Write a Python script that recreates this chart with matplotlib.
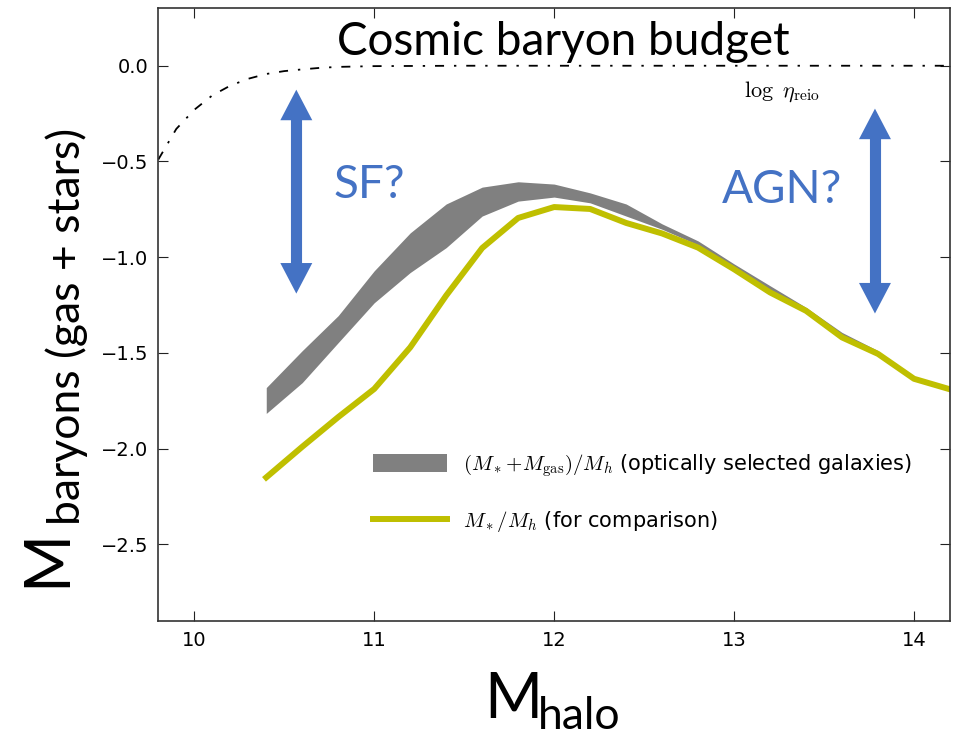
import numpy as np
import matplotlib
matplotlib.use("Agg")
import matplotlib.pyplot as plt

plt.rcParams['mathtext.fontset'] = 'cm'
plt.rcParams['font.family'] = ['DejaVu Sans']

# halo mass grid (log M_halo)
mhalo = [10.4, 10.6, 10.8, 11.0, 11.2, 11.4, 11.6, 11.8, 12.0, 12.2,
         12.4, 12.6, 12.8, 13.0, 13.2, 13.4, 13.6, 13.8, 14.0, 14.2]
# M*/Mh (for comparison)
mstar = [-2.15, -1.99, -1.835, -1.688, -1.471, -1.20, -0.952, -0.795, -0.738, -0.748,
         -0.821, -0.876, -0.95, -1.063, -1.184, -1.28, -1.419, -1.505, -1.635, -1.69]

# (M*+Mgas)/Mh band, optically selected galaxies
band_x = [10.4, 10.6, 10.8, 11.0, 11.2, 11.4, 11.6, 11.8, 12.0, 12.2,
          12.4, 12.6, 12.8, 13.0, 13.2, 13.4, 13.6, 13.8]
band_hi = [-1.681, -1.488, -1.305, -1.071, -0.873, -0.722, -0.634, -0.606, -0.618, -0.664,
           -0.722, -0.826, -0.915, -1.035, -1.149, -1.262, -1.393, -1.488]
band_lo = [-1.816, -1.655, -1.446, -1.238, -1.080, -0.950, -0.785, -0.707, -0.686, -0.716,
           -0.785, -0.854, -0.936, -1.05, -1.17, -1.27, -1.405, -1.493]

# log eta_reio curve
eta_x = [9.8, 9.9, 10.0, 10.1, 10.2, 10.3, 10.4, 10.5, 10.6, 10.7, 10.8, 11.0, 11.5, 14.2]
eta_y = [-0.49, -0.33, -0.23, -0.155, -0.104, -0.068, -0.043, -0.028, -0.019, -0.011,
         -0.006, -0.002, 0.0, 0.0]

xticks = [10, 11, 12, 13, 14]
yticks = [0.0, -0.5, -1.0, -1.5, -2.0, -2.5]

blue = '#4472C4'

fig = plt.figure(figsize=(9.64, 7.38), dpi=100)
ax = fig.add_axes([158.3/964, 1-621/738, (950-158.3)/964, (621-8.3)/738])

ax.plot(eta_x, eta_y, color='black', lw=1.3, dashes=(5, 5.5, 1.3, 5.5))
ax.fill_between(band_x, band_lo, band_hi, color='gray', lw=0,
                label=r'$(M_*\!+\!M_{\rm gas})/M_h$ (optically selected galaxies)')
ax.plot(mhalo, mstar, color='y', lw=4.3, label=r'$M_*/M_h$ (for comparison)')

ax.set_xlim(9.8, 14.2)
ax.set_ylim(-2.9, 0.3)
ax.set_xticks(xticks)
ax.set_yticks(yticks)
ax.set_xticklabels([str(t) for t in xticks])
ax.set_yticklabels(['0.0', '\u22120.5', '\u22121.0', '\u22121.5', '\u22122.0', '\u22122.5'])
ax.tick_params(direction='in', length=7, width=0.8, top=True, right=True,
               labelsize=14, pad=7, colors='#222222', labelcolor='black')
for s in ax.spines.values():
    s.set_linewidth(1.2)
    s.set_color('#333333')

leg = ax.legend(loc='upper left', bbox_to_anchor=(0.271, 0.276), frameon=False,
                fontsize=15, handlelength=3.55, handleheight=0.96, labelspacing=1.45,
                handletextpad=0.77, borderpad=0, borderaxespad=0)

# annotations
ax.text(12.05, 0.054, 'Cosmic baryon budget', ha='center', va='baseline',
        fontsize=33, family='Lato')
ax.text(13.057, -0.16, r'$\log\ \eta_{\rm reio}$', fontsize=16, ha='left', va='baseline')
ax.text(10.772, -0.692, 'SF?', fontsize=33, family='Lato', color=blue, va='baseline')
ax.text(12.932, -0.716, 'AGN?', fontsize=33, family='Lato', color=blue, va='baseline')

# double arrows: plain shaft plus two filled heads
arrows = [(10.567, -0.125, -1.19), (13.783, -0.224, -1.294)]
for ax_x, y_top, y_bot in arrows:
    ax.plot([ax_x, ax_x], [y_top - 0.1, y_bot + 0.1], color=blue, lw=8,
            solid_capstyle='butt')
    for tip, start in [(y_top, y_top - 0.3), (y_bot, y_bot + 0.3)]:
        ax.annotate('', xy=(ax_x, tip), xytext=(ax_x, start),
                    arrowprops=dict(arrowstyle='-|>,head_length=22,head_width=11.5',
                                    mutation_scale=1, color=blue, lw=0,
                                    shrinkA=0, shrinkB=0))

# axis labels
fig.text(65/964, 1-558/738, 'M', rotation=90, rotation_mode='anchor', ha='center',
         va='baseline', fontsize=45, family='Lato')
fig.text(80/964, 1-525/738, 'baryons (gas + stars)', rotation=90, rotation_mode='anchor',
         ha='left', va='baseline', fontsize=32, family='Lato')
fig.text(484/964, 1-718/738, 'M', ha='left', va='baseline', fontsize=45, family='Lato')
fig.text(538/964, 1-729/738, 'halo', ha='left', va='baseline', fontsize=32, family='Lato')

fig.savefig('out.png', dpi=100)
